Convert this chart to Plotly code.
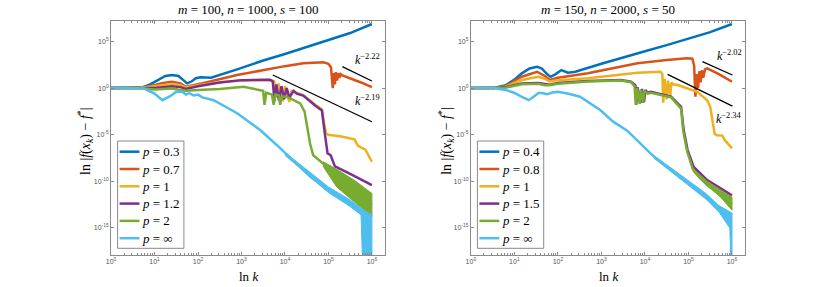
import plotly.graph_objects as go

# Readings from the picture, stored as log10 exponents: k = 10**x, f = 10**y
# ---------------- left panel: m=100, n=1000, s=100 ----------------
L_names = ["0.3", "0.7", "1", "1.2", "2", "∞"]
L_x03 = [0, 0.5, 0.7, 0.9, 1.1, 1.25, 1.4, 1.55, 1.65, 1.75, 1.85, 1.95, 2.06, 2.3, 2.9, 3.5, 4.0, 4.42, 5.0, 5.5, 6.0]
L_y03 = [0, 0, 0.05, 0.4, 0.95, 1.3, 1.4, 1.3, 0.9, 0.5, 0.7, 1.05, 1.15, 1.1, 2.0, 2.95, 3.65, 4.26, 5.1, 5.9, 6.87]
L_x07 = [0, 0.6, 0.9, 1.2, 1.4, 1.6, 1.72, 1.9, 2.13, 2.9, 3.5, 4.0, 4.42, 4.7, 4.88, 5.0, 5.06, 5.1, 5.12, 5.15, 5.17, 5.2, 5.22, 5.25, 5.28, 5.32, 5.5, 5.75, 6.0]
L_y07 = [0, 0, 0.2, 0.55, 0.68, 0.5, 0.14, 0.35, 0.55, 1.4, 1.95, 2.35, 2.65, 2.75, 2.76, 2.6, 2.2, 0.0, 1.6, 0.4, 1.7, 0.8, 1.6, 1.1, 1.5, 1.35, 1.05, 0.6, 0.1]
L_x1 = [0, 0.6, 1.0, 1.4, 1.6, 1.72, 2.0, 2.5, 3.0, 3.6, 3.75, 3.8, 3.85, 3.9, 3.95, 4.0, 4.05, 4.1, 4.15, 4.3, 4.42, 4.7, 4.85, 4.9, 4.95, 5.0, 5.3, 5.6, 5.68, 5.85, 5.95, 6.0]
L_y1 = [0, 0, 0.2, 0.43, 0.3, 0.05, 0.3, 0.62, 0.82, 0.88, 0.75, -1.0, 0.5, -0.9, -1.4, 0.2, -0.6, -1.5, -0.3, -0.55, -0.75, -1.8, -2.3, -3.8, -4.9, -5.0, -5.2, -5.5, -6.2, -6.6, -7.5, -7.9]
L_x12 = [0, 0.6, 1.0, 1.4, 1.6, 1.72, 2.0, 2.5, 3.0, 3.66, 3.72, 3.76, 3.8, 3.86, 3.92, 3.98, 4.04, 4.1, 4.2, 4.27, 4.42, 4.7, 4.85, 4.92, 4.98, 5.05, 5.15, 5.5, 6.0]
L_y12 = [0, 0, 0.0, 0.2, 0.1, -0.1, 0.2, 0.6, 0.85, 0.9, 0.7, -1.4, 0.4, -1.3, 0.2, -1.2, 0.0, -1.0, -0.3, -0.6, -0.8, -1.9, -2.4, -5.0, -7.0, -7.2, -8.4, -9.2, -10.4]
L_x2 = [0, 0.6, 1.0, 1.4, 1.6, 1.72, 2.0, 2.5, 3.05, 3.43, 3.5, 3.53, 3.57, 3.7, 3.74, 3.78, 3.86, 3.89, 3.93, 4.04, 4.35, 4.45, 4.5, 4.58, 4.65, 4.88, 5.19, 5.6, 6.0]
L_y2 = [0, 0, -0.15, -0.05, -0.2, -0.3, -0.2, -0.1, 0.14, -0.2, -0.3, -1.8, -0.5, -0.7, -1.8, -0.7, -0.8, -1.8, -0.9, -0.93, -1.64, -2.5, -4.0, -6.0, -7.2, -8.1, -9.6, -11.0, -12.5]
L_x2_band = [4.88, 5.19, 5.6, 6.0]
L_y2_hi = [-7.9, -8.7, -9.9, -11.3]
L_y2_lo = [-8.4, -10.6, -12.2, -13.8]
L_xinf = [0, 0.6, 0.76, 1.0, 1.18, 1.35, 1.5, 1.64, 1.72, 1.8, 1.9, 2.0, 2.1, 2.36, 2.9, 3.28, 3.43, 3.81, 4.27, 4.58, 5.0, 5.5, 5.78]
L_yinf = [0, 0, -0.05, -0.6, -1.3, -0.9, -0.4, -0.4, -0.7, -0.55, -0.8, -0.7, -1.0, -1.3, -2.7, -4.0, -4.5, -6.1, -8.1, -9.5, -11.0, -12.4, -13.3]
L_xinf_hi = [4.0, 4.5, 5.0, 5.5, 5.78, 6.0]
L_yinf_hi = [-6.9, -8.7, -10.6, -12.0, -13.0, -13.6]
L_xinf_lo = [4.0, 4.5, 5.0, 5.5, 5.75, 5.78, 6.0]
L_yinf_lo = [-7.2, -9.2, -11.2, -12.7, -13.6, -17.9, -17.9]
L_refA_x = [5.32, 6.0]
L_refA_y = [2.29, 0.76]
L_refB_x = [3.72, 6.0]
L_refB_y = [1.4, -3.61]
L_refA_lab = "−2.22"
L_refB_lab = "−2.19"

# ---------------- right panel: m=150, n=2000, s=50 ----------------
R_names = ["0.4", "0.8", "1", "1.5", "2", "∞"]
R_x04 = [0, 0.53, 0.8, 1.0, 1.17, 1.35, 1.52, 1.63, 1.75, 1.83, 1.95, 2.08, 2.23, 2.4, 3.0, 3.5, 4.0, 4.5, 5.0, 5.5, 6.0]
R_y04 = [0, 0, 0.3, 0.9, 1.58, 2.1, 2.29, 2.1, 1.5, 1.2, 1.5, 1.93, 1.64, 1.75, 2.6, 3.3, 3.95, 4.6, 5.3, 6.0, 6.87]
R_x08 = [0, 0.53, 0.8, 1.17, 1.52, 1.7, 1.81, 2.0, 2.69, 3.83, 4.5, 4.97, 5.09, 5.13, 5.16, 5.19, 5.22, 5.25, 5.28, 5.31, 5.34, 5.38, 5.43, 5.7, 6.0]
R_y08 = [0, 0, 0.2, 1.21, 1.75, 1.3, 0.86, 1.1, 1.58, 2.65, 3.0, 3.19, 3.15, 2.4, -0.93, 1.5, 0.0, 1.8, 0.6, 1.9, 1.1, 2.0, 2.1, 1.5, 0.68]
R_x1 = [0, 0.53, 0.8, 1.17, 1.55, 1.7, 1.81, 2.0, 2.69, 3.83, 4.36, 4.4, 4.42, 4.45, 4.5, 4.53, 4.58, 4.61, 4.64, 4.75, 5.2, 5.43, 5.5, 5.55, 5.6, 5.65, 5.78, 5.82, 5.9, 5.95, 6.0]
R_y1 = [0, 0, 0.15, 0.86, 1.2, 1.0, 0.7, 0.85, 1.04, 1.64, 1.75, 1.5, -1.57, 1.0, -1.2, 0.8, -0.8, 0.6, 0.4, 0.32, -0.4, -1.3, -2.0, -3.4, -4.9, -5.05, -5.1, -5.5, -5.9, -6.2, -6.47]
R_x15 = [0, 0.53, 0.8, 1.17, 1.55, 1.7, 1.81, 2.0, 2.69, 3.45, 3.68, 3.78, 3.8, 3.83, 3.9, 3.93, 3.98, 4.01, 4.06, 4.14, 4.6, 4.83, 4.89, 4.98, 5.12, 5.43, 6.0]
R_y15 = [0, 0, 0.1, 0.5, 0.55, 0.4, 0.35, 0.55, 0.75, 0.86, 0.68, 0.3, -1.8, 0.1, -1.6, -0.1, -1.5, -0.2, -0.5, -0.4, -0.93, -2.0, -4.5, -6.65, -8.45, -9.87, -11.5]
R_x2 = [0, 0.53, 0.8, 1.17, 1.55, 1.7, 1.81, 2.0, 2.69, 3.45, 3.68, 3.76, 3.79, 3.82, 3.88, 3.91, 3.96, 3.99, 4.06, 4.14, 4.6, 4.83, 4.88, 4.97, 5.1, 5.43, 6.0]
R_y2 = [0, 0, 0.05, 0.4, 0.45, 0.3, 0.3, 0.45, 0.7, 0.8, 0.62, 0.2, -1.8, 0.0, -1.7, -0.2, -1.6, -0.3, -0.6, -0.5, -1.0, -2.2, -4.6, -6.8, -8.7, -10.4, -12.4]
R_x2_hi = [5.1, 5.43, 6.0]
R_y2_hi = [-8.6, -10.0, -11.7]
R_x2_lo = [5.1, 5.28, 5.74, 6.0]
R_y2_lo = [-8.9, -9.87, -11.7, -13.1]
R_xinf = [0, 0.53, 0.8, 0.99, 1.15, 1.33, 1.45, 1.56, 1.66, 1.75, 1.85, 1.98, 2.2, 2.51, 2.97, 3.27, 3.6, 4.03, 4.21]
R_yinf = [0, 0, -0.2, -0.5, -0.9, -1.3, -0.9, -0.5, -0.55, -0.67, -0.5, -0.4, -0.55, -0.93, -2.36, -3.6, -4.6, -6.6, -7.37]
R_xinf_hi = [4.2, 4.8, 5.4, 5.7, 6.0]
R_yinf_hi = [-7.2, -9.3, -11.3, -12.6, -13.4]
R_xinf_lo = [4.2, 4.8, 5.4, 5.7, 5.85, 5.95, 5.97, 6.0]
R_yinf_lo = [-7.5, -9.7, -11.9, -13.3, -14.3, -15.0, -17.9, -17.9]
R_refA_x = [5.32, 6.01]
R_refA_y = [2.83, 1.4]
R_refB_x = [4.52, 6.01]
R_refB_y = [1.47, -1.93]
R_refA_lab = "−2.02"
R_refB_lab = "−2.34"

x_tick_exp = [0, 1, 2, 3, 4, 5, 6]
y_tick_exp = [-15, -10, -5, 0, 5]

COLORS = ["#0072BD", "#D95319", "#EDB120", "#7E2F8E", "#77AC30", "#4DBEEE"]
SERIF = "Liberation Serif, Times New Roman, Noto Serif, DejaVu Serif, serif"


def p10(v):
    return [10 ** a for a in v]


fig = go.Figure()


def add_line(xa, ya, color, name, xax, yax):
    fig.add_trace(go.Scatter(x=p10(xa), y=p10(ya), mode="lines", name=name,
                             line=dict(color=color, width=2.5),
                             showlegend=False, xaxis=xax, yaxis=yax))


def add_band(xh, yh, xl, yl, color, xax, yax):
    xs = list(xh) + list(reversed(xl))
    ys = list(yh) + list(reversed(yl))
    fig.add_trace(go.Scatter(x=p10(xs), y=p10(ys), mode="lines", fill="toself",
                             fillcolor=color, line=dict(color=color, width=1),
                             showlegend=False, hoverinfo="skip", xaxis=xax, yaxis=yax))


def panel(names, series, bands, refs, xax, yax):
    for i, (xa, ya) in enumerate(series):
        add_line(xa, ya, COLORS[i], "p = " + names[i], xax, yax)
        for (bi, xh, yh, xl, yl) in bands:
            if bi == i:
                add_band(xh, yh, xl, yl, COLORS[i], xax, yax)
    for (rx, ry) in refs:
        fig.add_trace(go.Scatter(x=p10(rx), y=p10(ry), mode="lines",
                                 line=dict(color="black", width=1.3), showlegend=False,
                                 xaxis=xax, yaxis=yax))


panel(L_names,
      [(L_x03, L_y03), (L_x07, L_y07), (L_x1, L_y1), (L_x12, L_y12), (L_x2, L_y2), (L_xinf, L_yinf)],
      [(4, L_x2_band, L_y2_hi, L_x2_band, L_y2_lo), (5, L_xinf_hi, L_yinf_hi, L_xinf_lo, L_yinf_lo)],
      [(L_refA_x, L_refA_y), (L_refB_x, L_refB_y)], "x", "y")
panel(R_names,
      [(R_x04, R_y04), (R_x08, R_y08), (R_x1, R_y1), (R_x15, R_y15), (R_x2, R_y2), (R_xinf, R_yinf)],
      [(4, R_x2_hi, R_y2_hi, R_x2_lo, R_y2_lo), (5, R_xinf_hi, R_yinf_hi, R_xinf_lo, R_yinf_lo)],
      [(R_refA_x, R_refA_y), (R_refB_x, R_refB_y)], "x2", "y2")

W, H = 824, 287
xl_dom = [106.7 / W, 382.7 / W]
xr_dom = [468.7 / W, 745.0 / W]
y_dom = [1 - 255 / H, 1 - 21 / H]

minor_vals = [m * 10 ** d for d in range(0, 7) for m in range(2, 10)]
axis_common = dict(type="log", showgrid=False, zeroline=False, showline=True,
                   linecolor="#8a8a8a", linewidth=1, mirror="allticks", ticks="inside",
                   ticklen=3, tickcolor="#8a8a8a",
                   tickfont=dict(family="Liberation Sans, Arial, sans-serif", size=7, color="#555555"))
xaxis_common = dict(axis_common, range=[0, 6.31], tickmode="array",
                    tickvals=p10(x_tick_exp), ticktext=["10<sup>%d</sup>" % e for e in x_tick_exp],
                    minor=dict(tickmode="array", tickvals=minor_vals, ticks="inside", ticklen=2,
                               tickcolor="#8a8a8a", showgrid=False))
yaxis_common = dict(axis_common, range=[-17.9, 7.19], tickmode="array",
                    tickvals=p10(y_tick_exp), ticktext=["10<sup>%d</sup>" % e for e in y_tick_exp])

fig.update_layout(
    width=W, height=H, margin=dict(l=0, r=0, t=0, b=0), autosize=False,
    paper_bgcolor="white", plot_bgcolor="white", showlegend=False,
    xaxis=dict(xaxis_common, domain=xl_dom, anchor="y"),
    yaxis=dict(yaxis_common, domain=y_dom, anchor="x"),
    xaxis2=dict(xaxis_common, domain=xr_dom, anchor="y2"),
    yaxis2=dict(yaxis_common, domain=y_dom, anchor="x2"),
)

# legend boxes drawn as shapes + text (matching the compact MATLAB legend)
shapes = []
ann = []
leg_font = dict(family=SERIF, size=13, color="black")
for names, x0 in ((L_names, 113.3), (R_names, 475.3)):
    shapes.append(dict(type="rect", xref="paper", yref="paper", x0=x0 / W, x1=(x0 + 66.7) / W,
                       y0=1 - 248.3 / H, y1=1 - 141 / H, line=dict(color="#8a8a8a", width=1),
                       fillcolor="white", layer="above"))
    for i, nm in enumerate(names):
        yc = 151.7 + 17.3 * i
        shapes.append(dict(type="line", xref="paper", yref="paper", x0=(x0 + 2) / W, x1=(x0 + 22) / W,
                           y0=1 - yc / H, y1=1 - yc / H, line=dict(color=COLORS[i], width=2.5),
                           layer="above"))
        ann.append(dict(text="<i>p</i> = " + nm, x=(x0 + 23) / W, y=1 - yc / H, xref="paper",
                        yref="paper", showarrow=False, font=leg_font, xanchor="left",
                        yanchor="middle"))

tfont = dict(family=SERIF, size=13, color="black")
titles = [("<i>m</i> = 100, <i>n</i> = 1000, <i>s</i> = 100", (xl_dom[0] + xl_dom[1]) / 2),
          ("<i>m</i> = 150, <i>n</i> = 2000, <i>s</i> = 50", (xr_dom[0] + xr_dom[1]) / 2)]
for t, cx in titles:
    ann.append(dict(text=t, x=cx, y=1 - 9.5 / H, xref="paper", yref="paper",
                    showarrow=False, font=tfont, xanchor="center", yanchor="middle"))
    ann.append(dict(text="ln <i>k</i>", x=cx, y=1 - 276 / H, xref="paper", yref="paper",
                    showarrow=False, font=dict(family=SERIF, size=13, color="black"),
                    xanchor="center", yanchor="middle"))
for px in (80.5, 443.5):
    ann.append(dict(text="ln |<i>f</i>(<i>x<sub>k</sub></i>) − <i>f</i><sup>*</sup>|",
                    x=px / W, y=1 - 141 / H, xref="paper", yref="paper", textangle=-90,
                    showarrow=False, font=dict(family=SERIF, size=14, color="black"),
                    xanchor="center", yanchor="middle"))
labs = [("x", "y", 5.91, 3.11, L_refA_lab), ("x", "y", 5.91, -1.29, L_refB_lab),
        ("x2", "y2", 5.94, 3.54, R_refA_lab), ("x2", "y2", 5.94, -3.22, R_refB_lab)]
for xr, yr, lx, ly, t in labs:
    ann.append(dict(text="<i>k</i><sup>" + t + "</sup>", x=lx, y=ly, xref=xr, yref=yr,
                    showarrow=False, font=dict(family=SERIF, size=12, color="black"),
                    xanchor="center", yanchor="middle"))
fig.update_layout(annotations=ann, shapes=shapes)

fig.write_html("out.html", config={"displayModeBar": False},
               post_script="document.body.style.margin='0';document.body.style.overflow='hidden';")
